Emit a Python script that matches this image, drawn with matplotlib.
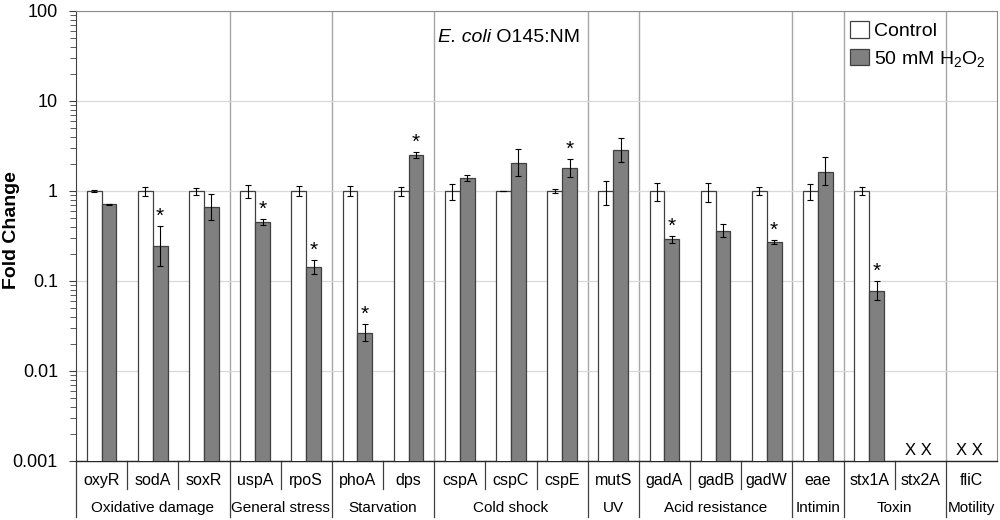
import matplotlib
matplotlib.use("Agg")
import matplotlib.pyplot as plt
import matplotlib.transforms as mtransforms
from matplotlib.patches import Patch
import numpy as np

plt.rcParams['font.family'] = ['Liberation Sans', 'DejaVu Sans']
plt.rcParams['mathtext.fontset'] = 'custom'
plt.rcParams['mathtext.rm'] = 'Liberation Sans'
plt.rcParams['mathtext.it'] = 'Liberation Sans:italic'

# genes and their functional groups
genes = ['oxyR', 'sodA', 'soxR', 'uspA', 'rpoS', 'phoA', 'dps', 'cspA', 'cspC',
         'cspE', 'mutS', 'gadA', 'gadB', 'gadW', 'eae', 'stx1A', 'stx2A', 'fliC']
groups = ['Oxidative damage', 'General stress', 'Starvation', 'Cold shock', 'UV',
          'Acid resistance', 'Intimin', 'Toxin', 'Motility']
group_sizes = [3, 2, 2, 3, 1, 3, 1, 2, 1]

# control (fold change 1) with +/- error, nan = not detected
ctrl = [1, 1, 1, 1, 1, 1, 1, 1, 1, 1, 1, 1, 1, 1, 1, 1, np.nan, np.nan]
ctrl_err = [0.02, 0.12, 0.09, 0.17, 0.13, 0.13, 0.11, 0.2, 0.01, 0.05, 0.3,
            0.22, 0.24, 0.1, 0.2, 0.1, np.nan, np.nan]

# 50 mM H2O2 treatment, error bar ends
treat = [0.71, 0.245, 0.67, 0.454, 0.142, 0.0267, 2.51, 1.38, 2.06, 1.8, 2.85,
         0.29, 0.362, 0.273, 1.64, 0.078, np.nan, np.nan]
treat_lo = [0.695, 0.147, 0.476, 0.42, 0.12, 0.0216, 2.3, 1.3, 1.46, 1.43, 2.1,
            0.264, 0.306, 0.26, 1.16, 0.061, np.nan, np.nan]
treat_hi = [0.725, 0.41, 0.93, 0.49, 0.17, 0.033, 2.73, 1.5, 2.95, 2.25, 3.9,
            0.318, 0.43, 0.286, 2.37, 0.1, np.nan, np.nan]
signif = ['sodA', 'uspA', 'rpoS', 'phoA', 'dps', 'cspE', 'gadA', 'gadW', 'stx1A']
not_detected = ['stx2A', 'fliC']

x = np.arange(len(genes))
w = 0.29
ctrl = np.array(ctrl)
treat = np.array(treat)

fig = plt.figure(figsize=(10, 5.2), dpi=100)
ax = fig.add_axes([0.076, 0.1135, 0.921, 0.8654])

ax.bar(x - w / 2, ctrl, w, color='white', edgecolor='#404040', linewidth=0.9,
       zorder=3, bottom=0)
ax.bar(x + w / 2, treat, w, color='#808080', edgecolor='#404040', linewidth=0.9,
       zorder=3, bottom=0)
ax.errorbar(x - w / 2, ctrl, yerr=np.array(ctrl_err), fmt='none', ecolor='black',
            elinewidth=0.8, capsize=2, capthick=0.8, zorder=4)
yerr_t = np.array([treat - np.array(treat_lo), np.array(treat_hi) - treat])
ax.errorbar(x + w / 2, treat, yerr=yerr_t, fmt='none', ecolor='black',
            elinewidth=0.8, capsize=2, capthick=0.8, zorder=4)

ax.set_yscale('log')
ax.set_ylim(0.001, 100)
ax.set_xlim(-0.5, len(genes) - 0.5)
ax.set_yticks([0.001, 0.01, 0.1, 1, 10, 100])
ax.set_yticklabels(['0.001', '0.01', '0.1', '1', '10', '100'], fontsize=13)
ax.tick_params(axis='y', which='major', length=5, width=0.8, color='#404040', pad=8)
ax.tick_params(axis='y', which='minor', length=4, width=0.6, color='#404040')
ax.set_xticks([])
ax.grid(axis='y', which='major', color='#d9d9d9', linewidth=0.9, zorder=0)
ax.set_ylabel('Fold Change', fontsize=14, fontweight='bold')
ax.yaxis.set_label_coords(-0.061, 0.513)

for s in ['top', 'right']:
    ax.spines[s].set_color('#8c8c8c')
ax.spines['left'].set_color('#404040')
ax.spines['bottom'].set_color('#262626')
ax.spines['bottom'].set_linewidth(1.0)

# group dividers inside the plot and category lines below it
trans = mtransforms.blended_transform_factory(ax.transData, ax.transAxes)
bounds = np.cumsum([0] + group_sizes) - 0.5
for b in bounds[1:-1]:
    ax.axvline(b, color='#a6a6a6', linewidth=1.0, zorder=1)
for b in bounds[:-1]:
    ax.plot([b, b], [0, -0.1244], transform=trans, color='#404040',
            linewidth=0.9, clip_on=False)
for i in range(1, len(genes)):
    if i - 0.5 not in bounds:
        ax.plot([i - 0.5, i - 0.5], [0, -0.0622], transform=trans,
                color='#404040', linewidth=0.9, clip_on=False)

for i, g in enumerate(genes):
    ax.text(i, -0.044, g, transform=trans, ha='center', va='center', fontsize=11.5)
for k, name in enumerate(groups):
    c = (bounds[k] + bounds[k + 1]) / 2
    ax.text(c, -0.104, name, transform=trans, ha='center', va='center', fontsize=11)

# significance marks and not-detected marks
for i, g in enumerate(genes):
    if g in signif:
        ax.annotate('*', (x[i] + w / 2, treat_hi[i]), xytext=(0, 0),
                    textcoords='offset points', ha='center', va='bottom',
                    fontsize=15)
    if g in not_detected:
        ax.text(x[i] - 0.03, 0.00108, 'X X', ha='center', va='bottom', fontsize=12)

t1 = ax.text(0.393, 0.94, 'E. coli', transform=ax.transAxes, ha='left',
             va='center', fontsize=14, style='italic')
ax.annotate(' O145:NM', xy=(1, 0), xycoords=t1, ha='left', va='bottom',
            fontsize=14)

handles = [Patch(facecolor='white', edgecolor='#404040', linewidth=0.9),
           Patch(facecolor='#808080', edgecolor='#404040', linewidth=0.9)]
ax.legend(handles, ['Control', r'50 mM H$_\mathregular{2}$O$_\mathregular{2}$'],
          loc='upper left', bbox_to_anchor=(0.8405, 0.978), frameon=False,
          fontsize=14, handlelength=0.95, handleheight=0.95, handletextpad=0.3,
          labelspacing=0.45, borderpad=0, borderaxespad=0)

fig.savefig('out.png', dpi=100)
